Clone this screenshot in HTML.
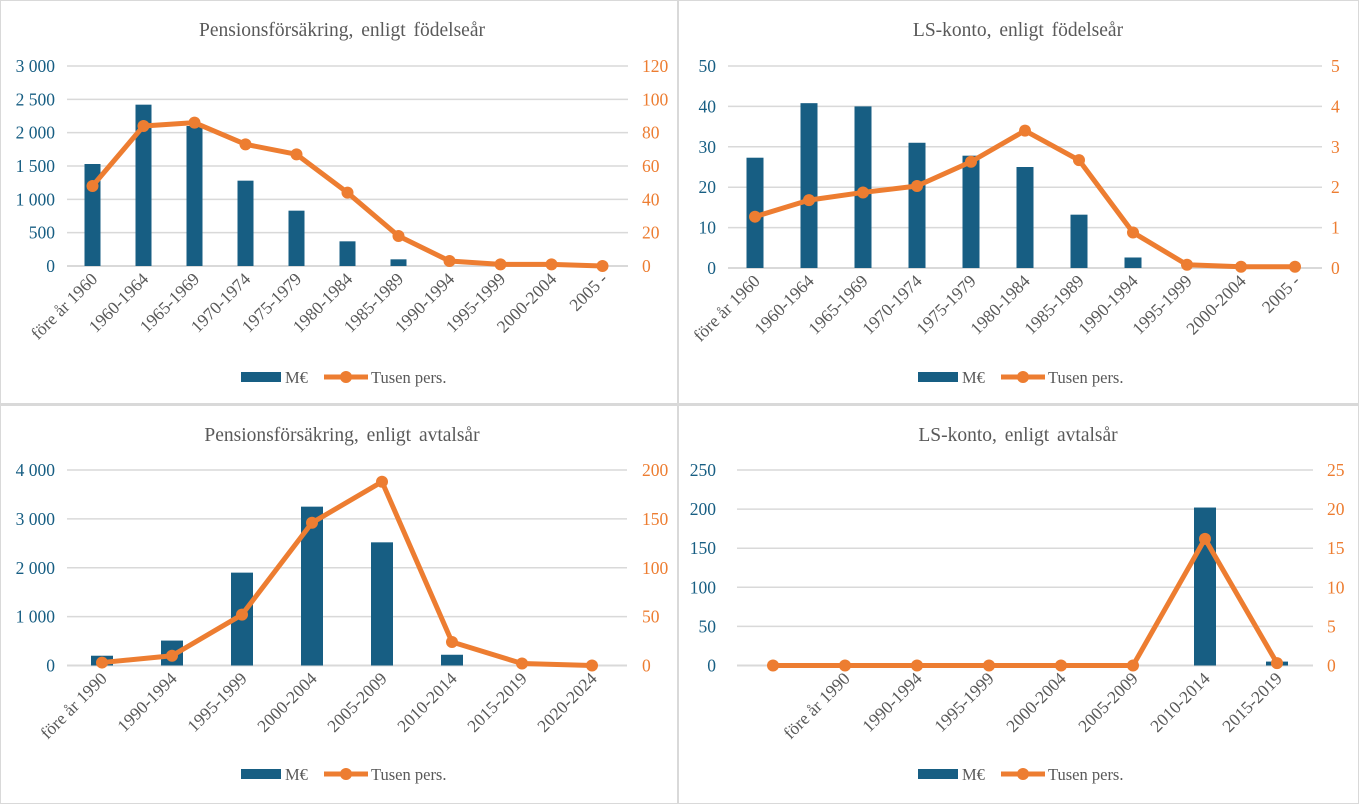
<!DOCTYPE html>
<html><head><meta charset="utf-8">
<style>
html,body{margin:0;padding:0;background:#fff;}
svg{display:block;font-family:"Liberation Serif",serif;}
</style></head>
<body>
<svg id="s" xmlns="http://www.w3.org/2000/svg" width="1359" height="804" viewBox="0 0 1359 804">
<rect x="0" y="0" width="1359" height="804" fill="#fff"/>
<rect x="0.5" y="0.5" width="1358" height="803" fill="none" stroke="#d9d9d9" stroke-width="1"/>
<rect x="677" y="0" width="2" height="804" fill="#d9d9d9"/>
<rect x="0" y="403" width="1359" height="3" fill="#d9d9d9"/>
</svg>
<script>
var s=document.getElementById('s');var NS='http://www.w3.org/2000/svg';
function el(t,a,txt){var e=document.createElementNS(NS,t);for(var k in a)e.setAttribute(k,a[k]);if(txt!==undefined)e.textContent=txt;s.appendChild(e);return e;}
var BLUE='#175e83',OR='#ed7d31',G='#d9d9d9';
function chart(c){
 var n=c.cats.length,w=(c.x1-c.x0)/n,h=c.y0-c.yT;
 el('text',{x:c.tx,y:c.titleY,'text-anchor':'middle','font-size':19.5,fill:'#595959','word-spacing':3},c.title);
 for(var i=0;i<=c.nt;i++){var y=c.y0-h*i/c.nt;
  if(i>0)el('line',{x1:c.x0,x2:c.x1,y1:y,y2:y,stroke:G,'stroke-width':1.5});
  el('text',{x:c.lx,y:y+6,'text-anchor':'end','font-size':17.5,fill:BLUE},c.lf(c.lmax*i/c.nt));
  el('text',{x:c.rx,y:y+6,'text-anchor':'start','font-size':17.5,fill:OR},String(c.rmax*i/c.nt));}
 el('line',{x1:c.x0,x2:c.x1,y1:c.y0,y2:c.y0,stroke:G,'stroke-width':2});
 var pts=[];
 for(var i=0;i<n;i++){var cx=c.x0+w*(i+0.5);
  var bh=h*c.bars[i]/c.lmax; if(bh>0)el('rect',{x:cx-c.bw/2,y:c.y0-bh,width:c.bw,height:bh,fill:BLUE});
  pts.push([cx,c.y0-h*c.line[i]/c.rmax]);
  if(c.cats[i])el('text',{x:cx+6,y:c.y0+14,'text-anchor':'end','font-size':17.5,fill:'#595959',transform:'rotate(-45 '+(cx+6)+' '+(c.y0+14)+')'},c.cats[i]);}
 el('polyline',{points:pts.map(function(p){return p.join(',')}).join(' '),fill:'none',stroke:OR,'stroke-width':5,'stroke-linejoin':'round'});
 pts.forEach(function(p){el('circle',{cx:p[0],cy:p[1],r:6,fill:OR});});
 var ly=c.legY;
 el('rect',{x:c.legX,y:ly-5,width:40,height:10,fill:BLUE});
 el('text',{x:c.legX+44,y:ly+6,'font-size':16.5,fill:'#595959'},'M€');
 el('line',{x1:c.legX+83,x2:c.legX+127,y1:ly,y2:ly,stroke:OR,'stroke-width':5});
 el('circle',{cx:c.legX+105,cy:ly,r:6,fill:OR});
 el('text',{x:c.legX+130,y:ly+6,'font-size':16.5,fill:'#595959'},'Tusen pers.');
}
function sp(v){v=Math.round(v);return v>=1000?Math.floor(v/1000)+' '+String(v%1000).padStart(3,'0'):String(v);}
var c1=['före år 1960','1960-1964','1965-1969','1970-1974','1975-1979','1980-1984','1985-1989','1990-1994','1995-1999','2000-2004','2005 -'];
chart({title:'Pensionsförsäkring, enligt födelseår',tx:342,titleY:36,x0:67,x1:628,y0:266,yT:66,nt:6,lmax:3000,rmax:120,lf:sp,lx:55,rx:642,bw:16,cats:c1,
 bars:[1530,2420,2100,1280,830,370,100,0,0,0,0],line:[48,84,86,73,67,44,18,3,1,1,0],legX:241,legY:377});
chart({title:'LS-konto, enligt födelseår',tx:1018,titleY:36,x0:728,x1:1322,y0:268,yT:66,nt:5,lmax:50,rmax:5,lf:sp,lx:716,rx:1331,bw:17,cats:c1,
 bars:[27.3,40.8,40,31,27.8,25,13.2,2.6,0,0,0],line:[1.27,1.68,1.87,2.03,2.63,3.4,2.67,0.88,0.08,0.03,0.03],legX:918,legY:377});
chart({title:'Pensionsförsäkring, enligt avtalsår',tx:342,titleY:441,x0:67,x1:627,y0:665.5,yT:470,nt:4,lmax:4000,rmax:200,lf:sp,lx:55,rx:642,bw:22,
 cats:['före år 1990','1990-1994','1995-1999','2000-2004','2005-2009','2010-2014','2015-2019','2020-2024'],
 bars:[200,510,1900,3250,2520,220,0,0],line:[3,10,52,146,188,24,2,0],legX:241,legY:774});
chart({title:'LS-konto, enligt avtalsår',tx:1018,titleY:441,x0:737,x1:1313,y0:665.5,yT:470,nt:5,lmax:250,rmax:25,lf:sp,lx:716,rx:1327,bw:22,
 cats:['','före år 1990','1990-1994','1995-1999','2000-2004','2005-2009','2010-2014','2015-2019'],
 bars:[0,0,0,0,0,0,202,5],line:[0,0,0,0,0,0,16.2,0.3],legX:918,legY:774});
</script>
</body></html>
